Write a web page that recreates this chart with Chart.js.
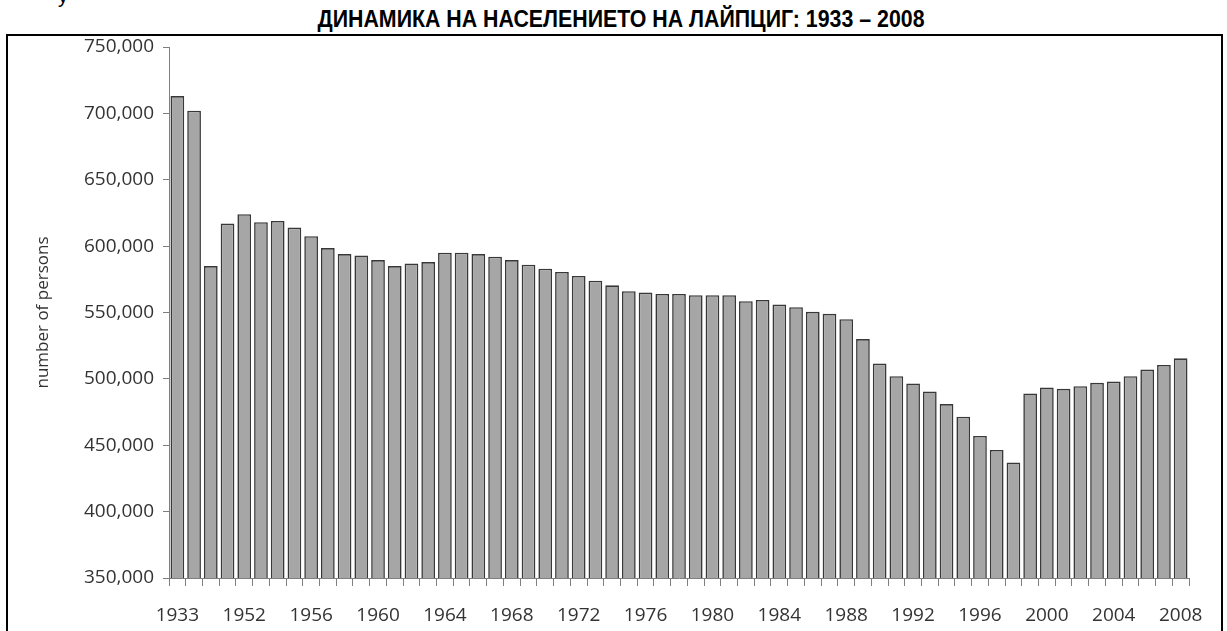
<!DOCTYPE html>
<html>
<head>
<meta charset="utf-8">
<script src="https://cdn.jsdelivr.net/npm/chart.js@4"></script>
<style>
  html, body { margin: 0; padding: 0; background: #fff; overflow: hidden; }
  #wrap { position: relative; width: 1227px; height: 631px; overflow: hidden; }
  #cut { position: absolute; left: 58px; top: -15px; font: 20px 'Liberation Sans', sans-serif; color: #000; }
  #title { position: absolute; top: 6px; left: 621px; white-space: nowrap; transform-origin: 0 0;
           font: bold 23px 'Liberation Sans', Arial, sans-serif; color: #000; }
  #frame { position: absolute; left: 6px; top: 34px; width: 1213px; height: 640px; border: 2px solid #000; }
  canvas { position: absolute; left: 0; top: 0; }
</style>
</head>
<body>
<div id="wrap">
  <div id="cut">у</div>
  <div id="title">ДИНАМИКА НА НАСЕЛЕНИЕТО НА ЛАЙПЦИГ: 1933 – 2008</div>
  <div id="frame"></div>
  <canvas id="popChart" width="1227" height="631"></canvas>
</div>
<script>
// years shown as bars (1933, 1939, 1945, 1950, then yearly 1952-2008)
const years = ['1933', '1939', '1945', '1950',
  '1952', '1953', '1954', '1955', '1956', '1957', '1958', '1959',
  '1960', '1961', '1962', '1963', '1964', '1965', '1966', '1967',
  '1968', '1969', '1970', '1971', '1972', '1973', '1974', '1975',
  '1976', '1977', '1978', '1979', '1980', '1981', '1982', '1983',
  '1984', '1985', '1986', '1987', '1988', '1989', '1990', '1991',
  '1992', '1993', '1994', '1995', '1996', '1997', '1998', '1999',
  '2000', '2001', '2002', '2003', '2004', '2005', '2006', '2007', '2008'];

const population = [713000, 702000, 585000, 617000,
  624000, 618000, 619000, 614000, 607500, 598500, 594000, 593000,
  589500, 585000, 587000, 588000, 595000, 595000, 594000, 592000,
  589500, 586000, 583000, 580500, 577500, 574000, 570500, 566000,
  565000, 564000, 564000, 563000, 563000, 563000, 558500, 559500,
  556000, 554000, 550500, 549000, 545000, 530000, 511500, 502000,
  496500, 490500, 481000, 471500, 457000, 446500, 437000, 489000,
  493500, 492500, 494500, 497000, 498000, 502000, 507000, 510500, 515500];

// years that get a label on the x axis
const shownYears = ['1933', '1952', '1956', '1960', '1964', '1968', '1972', '1976',
  '1980', '1984', '1988', '1992', '1996', '2000', '2004', '2008'];

const yTicks = [350000, 400000, 450000, 500000, 550000, 600000, 650000, 700000, 750000];

// narrow the bold title so it spans the same width as the original (condensed face)
const titleEl = document.getElementById('title');
const titleW = titleEl.getBoundingClientRect().width;
const sx = 607 / titleW;
titleEl.style.transform = 'scaleX(' + sx + ') translateX(-50%)';

const axisFont = { family: "'Open Sans', sans-serif", size: 19 };
const textColor = '#333333';
const lineColor = '#7f7f7f';

new Chart(document.getElementById('popChart').getContext('2d'), {
  type: 'bar',
  data: {
    labels: years,
    datasets: [{
      label: 'number of persons',
      data: population,
      backgroundColor: '#a6a6a6',
      borderColor: '#383838',
      borderWidth: 1.6,
      borderSkipped: 'bottom',
      barPercentage: 0.82,
      categoryPercentage: 1.0
    }]
  },
  options: {
    responsive: false,
    animation: false,
    layout: { padding: { top: 47, left: 9, right: 38, bottom: 0 } },
    plugins: {
      legend: { display: false },
      title: { display: false },
      tooltip: { enabled: false }
    },
    scales: {
      x: {
        grid: { display: true, offset: true, drawOnChartArea: false, drawTicks: true, tickLength: 8, color: lineColor },
        border: { display: true, color: lineColor, width: 1 },
        ticks: {
          autoSkip: false,
          maxRotation: 0,
          minRotation: 0,
          padding: 18,
          color: textColor,
          font: axisFont,
          callback: function (val, i) {
            return shownYears.includes(years[i]) ? years[i] : '';
          }
        },
        afterFit: function (s) { s.height = 53; }
      },
      y: {
        min: yTicks[0],
        max: yTicks[yTicks.length - 1],
        afterBuildTicks: function (s) { s.ticks = yTicks.map(v => ({ value: v })); },
        grid: { display: true, drawOnChartArea: false, drawTicks: true, tickLength: 6, color: lineColor },
        border: { display: true, color: lineColor, width: 1 },
        ticks: {
          padding: 9,
          color: textColor,
          font: axisFont,
          callback: v => v.toLocaleString('en-US')
        },
        title: {
          display: true,
          text: 'number of persons',
          color: textColor,
          font: { family: "'Open Sans', sans-serif", size: 17 },
          padding: { top: 24, bottom: 0 }
        },
        afterFit: function (s) { s.width = 160; }
      }
    }
  }
});
</script>
</body>
</html>
